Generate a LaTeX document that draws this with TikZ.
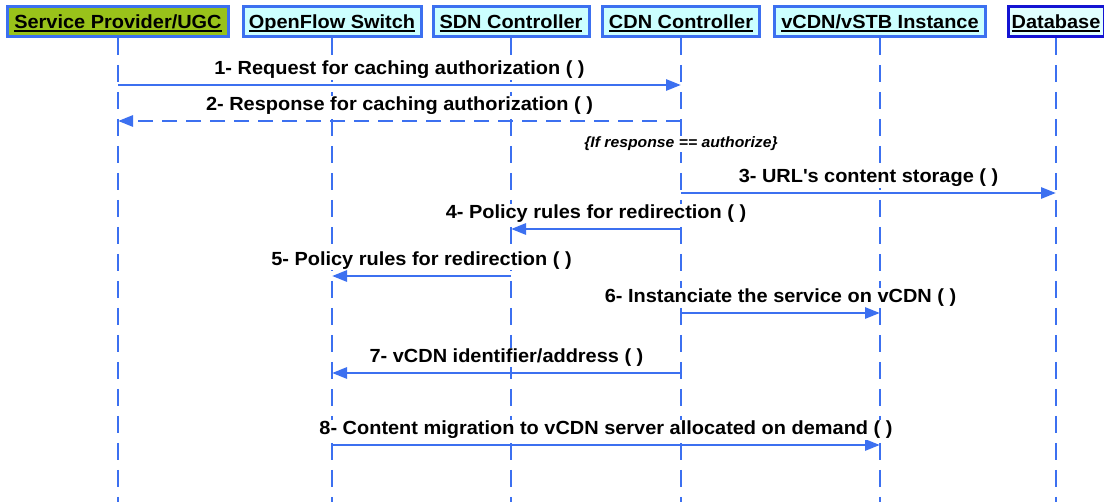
\documentclass[tikz,border=0pt]{standalone}
\usepackage{fontspec}
\setmainfont{Liberation Sans}[FakeStretch=1.05]
\usetikzlibrary{arrows.meta}
\definecolor{lblue}{RGB}{60,112,240}
\definecolor{hfill}{RGB}{204,255,255}
\definecolor{gfill}{RGB}{153,194,26}
\definecolor{dbblue}{RGB}{20,20,210}
\definecolor{dbfill}{RGB}{225,255,255}
\newcommand\hul[1]{\setbox0\hbox{#1}\rlap{\rule[-3.5pt]{\wd0}{1.7pt}}\box0}
\begin{document}
\begin{tikzpicture}[x=1pt,y=-1pt,
  hdr/.style={draw=lblue, line width=3pt, fill=hfill, minimum height=30pt, inner sep=0pt,
    text height=13.5pt, text depth=0pt, font=\bfseries\fontsize{19}{21}\selectfont},
  life/.style={draw=lblue, line width=2.8pt, dash pattern=on 17pt off 10pt},
  msg/.style={draw=lblue, line width=2.8pt, -{Triangle[length=15pt,width=11pt]}},
  ret/.style={msg, dash pattern=on 15pt off 9pt},
  lbl/.style={midway, anchor=base, yshift=10.5pt, inner sep=1pt, fill=white, font=\bfseries\fontsize{19}{21}\selectfont},
  cond/.style={anchor=base, inner sep=1pt, fill=white, font=\bfseries\itshape\fontsize{15}{17}\selectfont}]
\useasboundingbox (0,0) rectangle (1104,502);
\coordinate (bottom) at (0,502);
% headers
\node[hdr, fill=gfill, minimum width=221pt] (sp) at (118,21.5) {\hul{Service Provider/UGC}};
\node[hdr, minimum width=178pt] (of) at (332,21.5) {\hul{OpenFlow Switch}};
\node[hdr, minimum width=156pt] (sdn) at (511,21.5) {\hul{SDN Controller}};
\node[hdr, minimum width=157pt] (cdn) at (681,21.5) {\hul{CDN Controller}};
\node[hdr, minimum width=211pt] (vcdn) at (880,21.5) {\hul{vCDN/vSTB Instance}};
\node[hdr, draw=dbblue, fill=dbfill, minimum width=96pt] (db) at (1056,21.5) {\hul{Database}};
% lifelines
\foreach \n in {sp,of,sdn,cdn,vcdn,db}
  \draw[life] (\n.south) -- (\n |- bottom);
% message rows
\coordinate (m1) at (0,85);
\coordinate (m2) at (0,121);
\coordinate (c1) at (0,148);
\coordinate (m3) at (0,193);
\coordinate (m4) at (0,229);
\coordinate (m5) at (0,276);
\coordinate (m6) at (0,313);
\coordinate (m7) at (0,373);
\coordinate (m8) at (0,445);
\draw[msg] (sp |- m1) -- node[lbl] {1- Request for caching authorization ( )} (cdn |- m1);
\draw[ret] (cdn |- m2) -- node[lbl] {2- Response for caching authorization ( )} (sp |- m2);
\node[cond] (cnd) at (cdn |- c1) {\{If response == authorize\}};
\draw[msg] (cdn |- m3) -- node[lbl] {3- URL\textquotesingle s content storage ( )} (db |- m3);
\draw[msg] (cdn |- m4) -- node[lbl] {4- Policy rules for redirection ( )} (sdn |- m4);
\draw[msg] (sdn |- m5) -- node[lbl] {5- Policy rules for redirection ( )} (of |- m5);
\draw[msg] (cdn |- m6) -- node[lbl] {6- Instanciate the service on vCDN ( )} (vcdn |- m6);
\draw[msg] (cdn |- m7) -- node[lbl] {7- vCDN identifier/address ( )} (of |- m7);
\draw[msg] (of |- m8) -- node[lbl] {8- Content migration to vCDN server allocated on demand ( )} (vcdn |- m8);
\end{tikzpicture}
\end{document}
